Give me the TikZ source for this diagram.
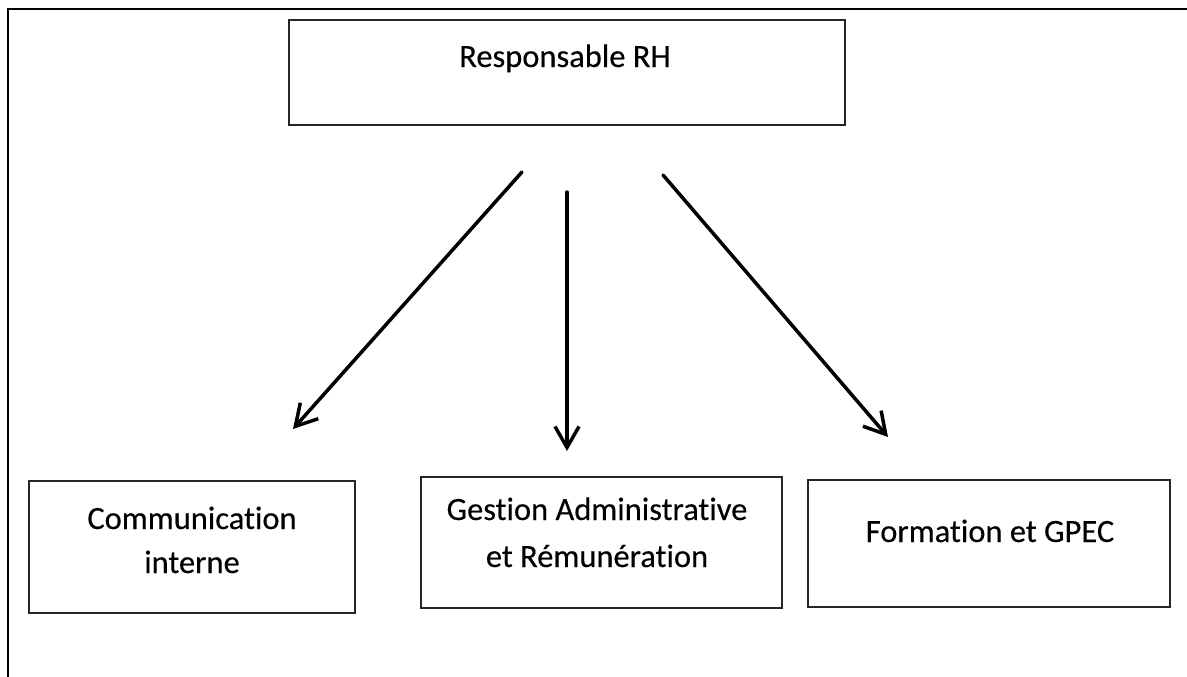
\documentclass[tikz,border=0pt]{standalone}
\usepackage{fontspec}
\setmainfont{Carlito}[Ligatures={NoCommon}, FakeBold=0.25]
\usetikzlibrary{arrows.meta}

\tikzset{
  box/.style={draw=black!85, line width=1.3pt, inner sep=0pt, fill=white},
  lbl/.style={inner sep=0pt, anchor=base, font=\fontsize{32.5}{39}\selectfont},
  link/.style={line width=3.5pt, line cap=round,
    -{Straight Barb[length=21pt, width=24pt, line width=3.5pt]}},
  frame/.style={line width=2.6pt}
}

\begin{document}
\begin{tikzpicture}[x=1pt, y=-1pt]
  \useasboundingbox (0,0) rectangle (1187,677);

  % page frame: top and left rules
  \draw[frame] (8,677) -- (8,9) -- (1187,9);

  % boxes
  \node[box, minimum width=556pt, minimum height=105pt] (rh)   at (567,72.5) {};
  \node[box, minimum width=326pt, minimum height=132pt] (comm) at (192,547) {};
  \node[box, minimum width=361pt, minimum height=131pt] (gest) at (601.5,542.5) {};
  \node[box, minimum width=362pt, minimum height=127pt] (form) at (989,543.5) {};

  % labels
  \node[lbl] (trh)  at (565,67) {Responsable RH};
  \node[lbl] (tc1)  at (192,529) {Communication};
  \node[lbl] (tc2)  at (192,573) {interne};
  \node[lbl] (tg1)  at (597,520) {Gestion Administrative};
  \node[lbl] (tg2)  at (597,567) {et Rémunération};
  \node[lbl] (tf)   at (990,542) {Formation et GPEC};

  % arrow ends
  \coordinate (s1) at (522,172);
  \coordinate (e1) at (293,429);
  \coordinate (s2) at (567,192);
  \coordinate (e2) at (567,451);
  \coordinate (s3) at (663,175);
  \coordinate (e3) at (888,437);

  % arrows
  \draw[link] (s1) -- (e1);
  \draw[link] (s2) -- (e2);
  \draw[link] (s3) -- (e3);
\end{tikzpicture}
\end{document}
